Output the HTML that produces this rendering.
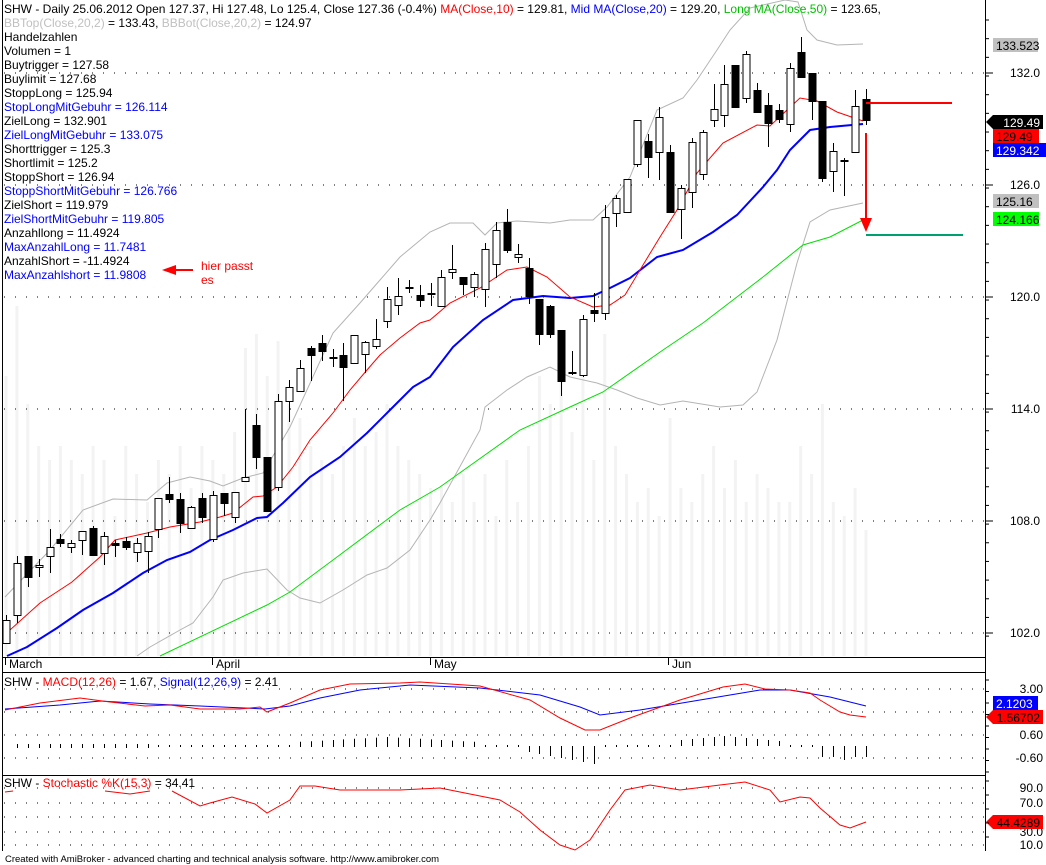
<!DOCTYPE html>
<html><head><meta charset="utf-8"><style>
body{margin:0;background:#fff;width:1046px;height:865px;overflow:hidden}
svg{display:block;font-family:"Liberation Sans",Arial,sans-serif}
</style></head><body>
<svg id="s" width="1046" height="865" xmlns="http://www.w3.org/2000/svg"></svg>
<script>
const S=document.getElementById('s');let h='';
const P=a=>a.map(p=>p.join(',')).join(' ');
const vh=[40,50,36,30,28,30,28,26,30,28,20,30,26,22,28,26,30,24,30,28,26,32,44,46,40,45,36,34,30,28,26,30,34,30,32,36,30,28,26,24,24,22,26,22,26,20,28,22,30,40,36,44,32,40,28,46,30,26,22,24,20,34,24,22,26,30,24,28,22,26,24,22,22,30,26,36,22,20,24,18];
for(let i=0;i<80;i++){const x=6+i*10.886;const hh=vh[i]*7;h+=`<rect x="${x-1.5}" y="${656-hh}" width="3" height="${hh}" fill="#f3f3f3"/>`;}
[73,185,297,409,521,633].forEach(y=>h+=`<line x1="4" y1="${y}" x2="985" y2="${y}" stroke="#000" stroke-dasharray="1,10"/>`);
[689,712,735,758,788,803,817,832,845].forEach(y=>h+=`<line x1="4" y1="${y}" x2="985" y2="${y}" stroke="#000" stroke-dasharray="1,10"/>`);
const bbt=[[5,597],[50,550],[83,510],[113,499],[147,500],[167,483],[190,477],[210,481],[223,486],[243,478],[263,473],[290,427],[333,333],[360,303],[380,280],[400,257],[430,232],[450,223],[473,223],[485,235],[497,223],[517,221],[550,223],[570,220],[593,220],[607,207],[630,177],[657,110],[683,98],[697,80],[717,50],[730,30],[750,8],[785,0],[798,2],[807,30],[817,40],[837,45],[863,44]];
const bbb=[[137,656],[150,647],[180,630],[193,623],[213,597],[223,580],[243,573],[267,569],[287,590],[300,598],[320,603],[343,590],[367,575],[387,568],[410,550],[430,520],[440,503],[480,430],[485,407],[507,390],[527,377],[550,367],[570,377],[597,383],[617,390],[637,398],[660,405],[683,401],[720,407],[743,405],[757,392],[777,340],[797,263],[810,222],[830,210],[863,203]];
h+=`<polyline points="${P(bbt)}" fill="none" stroke="#b4b4b4"/><polyline points="${P(bbb)}" fill="none" stroke="#b4b4b4"/>`;
const grn=[[160,656],[267,605],[290,592],[333,560],[400,510],[440,487],[520,430],[570,407],[603,392],[663,350],[703,323],[763,277],[803,245],[830,237],[863,220]];
const blu=[[7,656],[27,647],[57,628],[83,610],[113,593],[143,573],[167,560],[190,552],[210,540],[233,530],[257,518],[267,517],[283,503],[310,477],[340,457],[367,433],[390,410],[413,387],[430,377],[453,347],[483,320],[513,300],[543,296],[570,298],[593,296],[610,288],[630,278],[657,257],[683,250],[713,232],[737,215],[763,187],[777,170],[790,150],[810,130],[830,127],[863,124]];
const red=[[6,632],[10,630],[40,603],[72,582],[100,557],[115,540],[147,533],[170,527],[200,522],[220,517],[233,513],[253,497],[263,496],[277,487],[293,467],[310,440],[333,413],[350,390],[367,370],[380,355],[400,338],[420,323],[430,320],[450,303],[480,288],[507,270],[527,267],[547,277],[570,297],[593,307],[610,305],[625,295],[643,265],[660,237],[677,210],[697,173],[723,143],[757,125],[770,126],[787,110],[800,98],[817,101],[837,112],[863,121]];
h+=`<polyline points="${P(grn)}" fill="none" stroke="#00e000"/><polyline points="${P(blu)}" fill="none" stroke="#0000ff" stroke-width="2"/><polyline points="${P(red)}" fill="none" stroke="#f00"/>`;
const C=[[620,643,615,643,0],[563,615,556,623,0],[556,577,556,587,1],[565,567,559,577,0],[547,556,529,573,0],[539,543,534,547,1],[543,547,540,553,0],[531,540,531,555,0],[528,555,526,555,1],[536,553,532,565,0],[543,545,540,557,1],[541,547,537,550,1],[543,552,538,562,0],[536,551,532,573,0],[498,529,498,538,0],[494,499,477,503,1],[499,523,493,533,1],[507,528,506,528,0],[498,517,493,523,1],[495,539,491,542,0],[493,503,493,516,1],[492,517,492,523,0],[477,481,409,481,0],[425,457,414,469,1],[457,511,457,511,1],[401,487,394,491,0],[387,401,380,422,0],[368,391,360,391,0],[348,355,346,381,1],[343,351,335,361,1],[357,358,349,367,0],[355,367,343,401,1],[335,363,335,363,0],[342,354,341,373,0],[339,346,319,349,0],[299,321,287,328,0],[296,305,278,315,0],[287,288,280,293,1],[295,300,285,307,1],[293,294,283,306,1],
[277,306,270,306,0],[269,272,245,279,0],[277,284,277,295,1],[274,287,272,297,0],[249,289,243,307,0],[230,264,222,278,0],[222,250,209,253,1],[254,257,244,263,0],[268,296,258,304,1],[299,334,299,345,1],[306,334,305,338,1],[330,381,330,396,1],[372,373,351,375,1],[319,375,315,377,0],[310,313,293,322,1],[217,313,205,320,0],[198,213,195,227,0],[179,212,179,212,0],[120,164,120,167,0],[141,157,134,178,1],[117,152,107,180,0],[152,212,145,212,1],[188,209,185,239,0],[142,192,138,208,0],[132,174,130,180,0],[109,120,84,127,0],[84,115,65,127,0],[65,107,65,107,1],[54,98,51,103,0],[90,112,83,113,1],[105,123,93,147,1],[110,119,104,123,1],[68,124,63,132,0],[52,77,37,78,1],[73,101,73,120,1],[101,178,101,182,1],[151,171,143,192,0],[160,161,158,196,1],[106,152,90,153,0],[99,120,89,125,1]];
C.forEach((c,i)=>{const x=Math.round(6+i*10.886)+0.5;h+=`<line x1="${x}" y1="${c[2]}" x2="${x}" y2="${c[3]}" stroke="#000"/>`;
const bh=Math.max(c[1]-c[0],1);h+=`<rect x="${x-3.5}" y="${c[0]+0.5}" width="7" height="${bh}" fill="${c[4]?'#000':'#fff'}" stroke="#000"/>`;});
h+=`<line x1="866" y1="103" x2="952" y2="103" stroke="#f00" stroke-width="2"/><line x1="866" y1="235" x2="963" y2="235" stroke="#00a070" stroke-width="2"/>`;
h+=`<line x1="866" y1="133" x2="866" y2="220" stroke="#f00" stroke-width="2"/><polygon points="860,218 872,218 866,232" fill="#f00"/>`;
h+=`<line x1="175" y1="270" x2="193" y2="270" stroke="#f00" stroke-width="2"/><polygon points="162,270 176,265 176,275" fill="#f00"/>`;
h+=`<line x1="2.5" y1="0" x2="2.5" y2="851" stroke="#000"/><line x1="985.5" y1="0" x2="985.5" y2="851" stroke="#000"/>`;
[657,672,775].forEach(y=>h+=`<line x1="2" y1="${y}.5" x2="986" y2="${y}.5" stroke="#000"/>`);
[[5,'March'],[212,'April'],[430,'May'],[668,'Jun']].forEach(d=>h+=`<line x1="${d[0]}.5" y1="658" x2="${d[0]}.5" y2="665" stroke="#000"/><text x="${d[0]+4}" y="668" font-size="12">${d[1]}</text>`);
for(let y=20;y<650;y+=18.67)h+=`<line x1="986" y1="${y}" x2="989" y2="${y}" stroke="#000"/>`;
[73,185,297,409,521,633].forEach(y=>h+=`<line x1="986" y1="${y}" x2="993" y2="${y}" stroke="#000"/>`);
[[73,'132.0'],[185,'126.0'],[297,'120.0'],[409,'114.0'],[521,'108.0'],[633,'102.0']].forEach(l=>h+=`<text x="1040" y="${l[0]+4}" font-size="12" text-anchor="end">${l[1]}</text>`);
const box=(y,w,bg,fg,t,arr)=>{h+=arr?`<polygon points="986,${y} ${993},${y-7} 1043,${y-7} 1043,${y+7} 993,${y+7}" fill="${bg}"/>`:`<rect x="993" y="${y-7}" width="${w}" height="14" fill="${bg}"/>`;h+=`<text x="${arr?1040:996}" y="${y+5}" font-size="12" fill="${fg}" ${arr?'text-anchor="end"':''}>${t}</text>`;};
box(45,45,'#c0c0c0','#000','133.523');box(122,0,'#000','#fff','129.49',1);box(136,46,'#f00','#000','129.49');box(150,53,'#00f','#fff','129.342');box(201,46,'#c0c0c0','#000','125.16');box(219,46,'#00ff00','#000','124.166');
[[689,'3.00'],[735,'0.60'],[758,'-0.60'],[788,'90.0'],[803,'70.0'],[832,'30.0'],[845,'10.0']].forEach(l=>h+=`<text x="1043" y="${l[0]+4}" font-size="12" text-anchor="end">${l[1]}</text>`);
box(703,45,'#00f','#fff','2.1203');box(717,0,'#f00','#000','1.56702',1);box(822,0,'#f00','#000','44.4289',1);
for(let y=680;y<775;y+=11.5)h+=`<line x1="986" y1="${y}" x2="989" y2="${y}" stroke="#000"/>`;
for(let y=781;y<851;y+=14)h+=`<line x1="986" y1="${y}" x2="989" y2="${y}" stroke="#000"/>`;
const mb=[[5,709],[60,705],[100,701],[150,704],[200,706],[265,709],[290,706],[320,698],[360,690],[410,685],[480,688],[540,695],[580,707],[600,715],[640,710],[700,700],[760,690],[790,690],[830,697],[866,706]];
const mr=[[5,710],[40,703],[80,698],[110,702],[145,706],[170,705],[200,709],[240,709],[260,707],[267,712],[290,703],[320,690],[350,684],[400,683],[420,682],[480,686],[530,700],[560,718],[585,730],[600,730],[630,718],[680,700],[723,687],[745,684],[765,689],[790,690],[810,693],[820,700],[840,712],[850,715],[866,717]];
h+=`<polyline points="${P(mb)}" fill="none" stroke="#00f"/><polyline points="${P(mr)}" fill="none" stroke="#f00"/>`;
for(let i=1;i<80;i++){const x=Math.round(6+i*10.886)+0.5;let t=746,b=746;
if(i<14){t=744;b=748}else if(i<27){t=745;b=747}else if(i<44){t=737+Math.abs(i-35)*0.6;b=747}else if(i<48){t=745;b=747}else if(i<55){t=746;b=752+(i-48)*2}else if(i<62){t=745;b=747}else if(i<72){t=736+Math.abs(i-66);b=746}else if(i<75){t=745;b=747}else{t=746;b=757+(i===77?3:0)}
h+=`<line x1="${x}" y1="${t}" x2="${x}" y2="${b}" stroke="#000"/>`;}
const st=[[5,792],[13,791]];const st2=[[105,791],[130,794],[150,791]];
const st3=[[172,791],[200,806],[210,803],[232,797],[255,804],[267,813],[290,800],[300,786],[315,786],[340,790],[400,790],[440,788],[460,792],[500,800],[520,812],[540,830],[560,845],[575,850],[590,840],[610,810],[625,790],[650,785],[680,790],[720,785],[745,782],[770,790],[780,802],[800,797],[810,798],[820,808],[840,825],[850,828],[866,822]];
h+=`<polyline points="${P(st)}" fill="none" stroke="#f00"/><polyline points="${P(st2)}" fill="none" stroke="#f00"/><polyline points="${P(st3)}" fill="none" stroke="#f00"/>`;
h+=`<text x="4" y="13" font-size="12"><tspan>SHW - Daily 25.06.2012 Open 127.37, Hi 127.48, Lo 125.4, Close 127.36 (-0.4%) </tspan><tspan fill="#f00">MA(Close,10)</tspan><tspan> = 129.81, </tspan><tspan fill="#00f">Mid MA(Close,20)</tspan><tspan> = 129.20, </tspan><tspan fill="#00c000">Long MA(Close,50)</tspan><tspan> = 123.65,</tspan></text>`;
h+=`<text x="4" y="27" font-size="12"><tspan fill="#c0c0c0">BBTop(Close,20,2)</tspan> = 133.43, <tspan fill="#c0c0c0">BBBot(Close,20,2)</tspan> = 124.97</text>`;
const L=[['Handelzahlen',0],['Volumen = 1',0],['Buytrigger = 127.58',0],['Buylimit = 127.68',0],['StoppLong = 125.94',0],['StopLongMitGebuhr = 126.114',1],['ZielLong = 132.901',0],['ZielLongMitGebuhr = 133.075',1],['Shorttrigger = 125.3',0],['Shortlimit = 125.2',0],['StoppShort = 126.94',0],['StoppShortMitGebuhr = 126.766',1],['ZielShort = 119.979',0],['ZielShortMitGebuhr = 119.805',1],['Anzahllong = 11.4924',0],['MaxAnzahlLong = 11.7481',1],['AnzahlShort = -11.4924',0],['MaxAnzahlshort = 11.9808',1]];
L.forEach((l,i)=>h+=`<text x="4" y="${41+i*14}" font-size="12" fill="${l[1]?'#0000ff':'#000'}">${l[0]}</text>`);
h+=`<text x="201" y="270" font-size="12" fill="#f00">hier passt</text><text x="201" y="284" font-size="12" fill="#f00">es</text>`;
h+=`<text x="4" y="686" font-size="12">SHW - <tspan fill="#f00">MACD(12,26)</tspan> = 1.67, <tspan fill="#00f">Signal(12,26,9)</tspan> = 2.41</text>`;
h+=`<text x="4" y="787" font-size="12">SHW - <tspan fill="#f00">Stochastic %K(15,3)</tspan> = 34.41</text>`;
h+=`<text x="5" y="862" font-size="9.5" fill="#000">Created with AmiBroker - advanced charting and technical analysis software. http://www.amibroker.com</text>`;
S.innerHTML=h;
</script>
</body></html>
